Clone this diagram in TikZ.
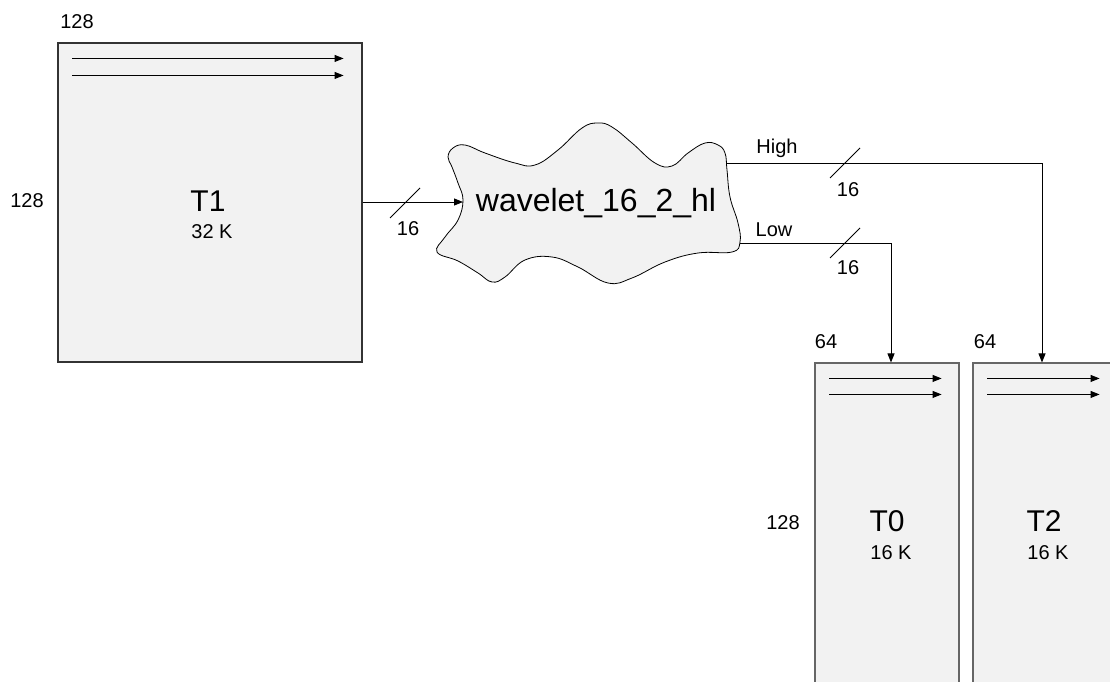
\documentclass[tikz,border=0pt]{standalone}
\usepackage{fontspec}
\setmainfont{Liberation Sans}
\usetikzlibrary{arrows.meta,calc}
\definecolor{tilefill}{HTML}{F2F2F2}
\tikzset{
  tile/.style ={draw=black!60,fill=tilefill,line width=1.1pt,inner sep=0pt},
  flow/.style ={-{Triangle[length=9pt,width=7pt]},line width=0.9pt},
  wire/.style ={line width=0.9pt},
  dim/.style  ={font=\fontsize{20}{24}\selectfont,inner sep=0pt},
  tname/.style={font=\fontsize{30}{36}\selectfont,inner sep=0pt},
}
\begin{document}
\begin{tikzpicture}[x=1pt,y=-1pt]
  \useasboundingbox (0,0) rectangle (1110,682);
  \clip (0,0) rectangle (1110,682);
  % tiles
  \node[tile,draw=black!80,minimum width=304pt,minimum height=319pt] (t1) at (210,202.5) {};
  \node[tile,minimum width=144pt,minimum height=340pt] (t0) at (887,533) {};
  \node[tile,minimum width=144pt,minimum height=340pt] (t2) at (1045,533) {};
  % scan direction
  \foreach \t/\r/\d in {t1/19/17, t0/18/16, t2/18/16}
    \foreach \k in {0,1}
      \draw[flow] ([shift={(15,16+\k*\d)}]\t.north west) -- ([shift={(-\r,16+\k*\d)}]\t.north east);
  % tile labels
  \node[dim] (t1w) at (77,22) {128};
  \node[dim] (t1h) at (27,201) {128};
  \node[tname] (t1n) at (208,201) {T1};
  \node[dim] (t1s) at (212,232) {32 K};
  \node[dim] (t0w) at (826,342) {64};
  \node[dim] (t2w) at (985,342) {64};
  \node[dim] (t0h) at (783,523) {128};
  \node[tname] (t0n) at (887,521) {T0};
  \node[dim] (t0s) at (891,553) {16 K};
  \node[tname] (t2n) at (1044,521) {T2};
  \node[dim] (t2s) at (1048,553) {16 K};
  % kernel cloud
  \draw[fill=tilefill,line width=0.8pt] plot[smooth cycle,tension=0.7] coordinates {
    (437,252) (458,261) (478,273) (492,282) (505,277) (525,260) (552,257)
    (578,267) (608,283) (632,278) (665,262) (698,253) (732,252) (740,242)
    (738,223) (730,197) (727,170) (725,153) (718,145) (705,143) (688,153)
    (672,166) (655,163) (632,143) (612,127) (598,123) (582,128) (558,150)
    (535,165) (515,163) (485,153) (465,145) (453,148) (448,157) (452,167)
    (458,183) (463,200) (458,220) (445,237)};
  \node[font=\fontsize{32}{38}\selectfont,inner sep=0pt] (wav) at (596,203) {wavelet\_16\_2\_hl};
  \coordinate (wavin) at (463,202);
  \coordinate (wavhi) at (727,163);
  \coordinate (wavlo) at (740,243);
  % streams
  \draw[flow] (t1.east |- wavin) -- (wavin);
  \draw[flow] (wavhi) -| ([xshift=-3pt]t2.north);
  \draw[flow] (wavlo) -| ([xshift=4pt]t0.north);
  \foreach \x/\y in {405/203, 845/163, 845/243}
    \draw[wire] (\x-15,\y+15) -- (\x+15,\y-15);
  \node[dim] (busin) at (408,229) {16};
  \node[dim] (bushi) at (848,190) {16};
  \node[dim] (buslo) at (848,268) {16};
  \node[dim] (hi) at (777,148) {High};
  \node[dim] (lo) at (774,230) {Low};
\end{tikzpicture}
\end{document}
